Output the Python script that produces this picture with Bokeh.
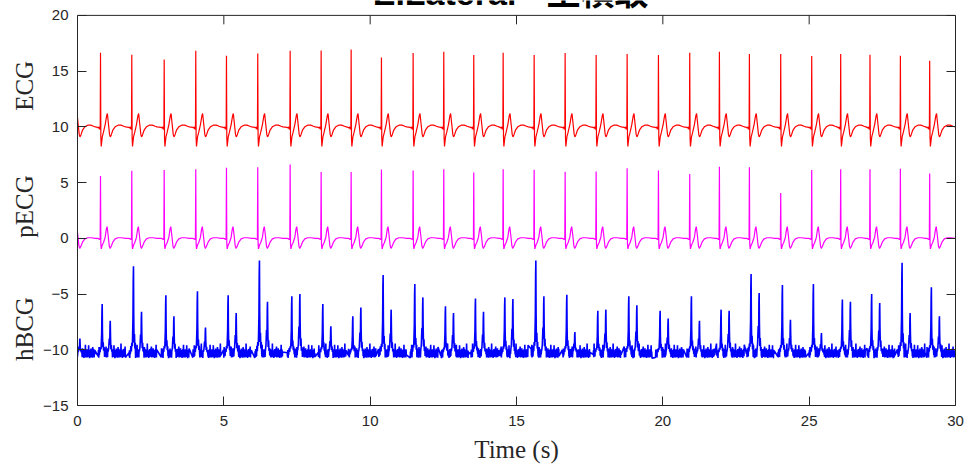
import numpy as np
from bokeh.plotting import figure
from bokeh.layouts import row
from bokeh.models import Range1d, FixedTicker, LinearAxis, Span, CustomJSTickFormatter
from bokeh.core.properties import value
from bokeh.embed import file_html
from bokeh.resources import INLINE

# ---------------- data ----------------
# R-peak (beat) times in seconds
beat_times = [0.786, 1.855, 2.962, 4.041, 5.090, 6.159, 7.266, 8.325, 9.350, 10.385,
              11.468, 12.515, 13.540, 14.544, 15.603, 16.662, 17.721, 18.780, 19.850,
              20.919, 21.933, 22.958, 24.028, 25.087, 26.077, 27.078, 28.117, 29.118]
lead_beat_time = -0.25          # beat that starts just before the record

# ECG (offset +10) R-peak values
ecg_r = [16.64, 16.46, 16.05, 16.82, 16.38, 16.59, 16.82, 16.86, 16.95, 16.23,
         16.62, 16.74, 16.44, 16.64, 16.44, 16.62, 16.44, 16.53, 16.44,
         16.65, 16.74, 16.54, 16.54, 16.36, 16.54, 16.47, 16.38, 15.94]
# pECG (offset 0) R-peak values
pecg_r = [5.59, 6.05, 6.12, 6.20, 6.32, 6.38, 6.62, 5.94, 5.94, 6.18,
          6.09, 6.20, 5.91, 6.20, 6.14, 5.97, 6.00, 6.29, 6.09,
          5.76, 6.41, 6.38, 4.06, 6.12, 6.20, 6.20, 6.23, 5.82]
# hBCG (offset -10) first (J) and second peaks
hbcg_j = [-5.9, -2.5, -5.1, -4.75, -5.1, -2.0, -5.2, -5.9, -7.0, -3.3,
          -4.1, -6.1, -5.4, -5.3, -2.0, -5.06, -6.5, -5.2, -6.5,
          -5.2, -6.4, -3.2, -4.2, -4.1, -5.5, -5.0, -2.2, -4.4]
hbcg_k = [-7.4, -6.6, -7.0, -8.0, -6.7, -5.7, -5.0, -7.9, -6.2, -6.4,
          -5.3, -6.7, -6.6, -5.45, -5.2, -8.4, -6.4, -6.0, -7.2,
          -7.4, -6.5, -4.9, -7.3, -8.5, -5.7, -5.8, -6.7, -7.0]
lead_hbcg_j, lead_hbcg_k = -9.5, -9.0

ecg_base, pecg_base, hbcg_base = 10.0, 0.0, -10.3

# one-beat wave shapes (time after R, value above baseline; None = R peak)
ecg_wave_dt = [-0.10, -0.07, -0.05, -0.035, -0.022, -0.01, 0.0, 0.012, 0.025, 0.06, 0.10,
               0.16, 0.21, 0.235, 0.27, 0.31, 0.335, 0.37, 0.42, 0.50, 0.60, 0.70, 0.80, 0.86]
ecg_wave_dv = [-0.05, -0.1, 0.0, -0.2, -0.05, -0.25, None, -1.0, -1.75, -0.9, -0.5,
               0.2, 1.0, 1.2, 0.3, -0.7, -0.9, -0.7, -0.3, 0.0, 0.15, 0.15, 0.05, 0.0]
pecg_wave_dt = [-0.10, -0.06, -0.03, -0.012, 0.0, 0.012, 0.025, 0.06, 0.10, 0.16, 0.20,
                0.225, 0.26, 0.30, 0.325, 0.36, 0.42, 0.50, 0.60, 0.72, 0.86]
pecg_wave_dv = [0.0, -0.05, -0.1, -0.1, None, -0.5, -0.95, -0.6, -0.4, 0.1, 0.85,
                1.05, 0.3, -0.7, -0.9, -0.75, -0.35, -0.05, 0.05, 0.05, 0.0]
# hBCG peak shapes: time after R, fraction of peak height above baseline
hbcg_j_dt = [-0.03, -0.015, 0.0, 0.02, 0.04, 0.05, 0.058, 0.066, 0.078, 0.092, 0.106, 0.12]
hbcg_j_f = [0.08, 0.02, 0.12, 0.08, 0.40, 0.85, 1.0, 0.45, 0.12, 0.22, 0.05, 0.12]
hbcg_k_dt = [0.26, 0.28, 0.30, 0.315, 0.325, 0.333, 0.342, 0.355, 0.37, 0.385, 0.40]
hbcg_k_f = [0.05, 0.15, 0.45, 0.25, 0.85, 1.0, 0.5, 0.12, 0.25, 0.04, 0.1]
# baseline jitter of the hBCG trace (value above baseline)
hbcg_jitter = [0.25, -0.30, 0.10, -0.40, 0.35, -0.15, 0.05, -0.35, 0.70, -0.25, 0.15, -0.45,
               0.30, -0.10, 0.20, -0.38, 0.42, -0.20, 0.00, -0.32, 0.28, -0.42, 0.55, -0.18,
               0.38, -0.28, 0.08, -0.40, 0.33, -0.12, 0.22, -0.36, 0.85, -0.22, 0.02, -0.30,
               0.26, -0.44, 0.16, -0.08, 0.36, -0.34, 0.06, -0.26, 0.41, -0.16, 0.60, -0.40,
               0.30, -0.06, 0.24, -0.37, 0.44, -0.24, 0.04, -0.31, 0.27, -0.43, 0.14, -0.14,
               0.37, -0.29, 0.75, -0.39, 0.32]
hbcg_jitter_dt = [-0.10 + 0.01 * i for i in range(96)]

x_ticks = [0, 5, 10, 15, 20, 25, 30]
y_ticks = [-15, -10, -5, 0, 5, 10, 15, 20]
y_tick_text = {-15: "\u221215", -10: "\u221210", -5: "\u22125"}
y_min, y_max = -15, 20
title_text = "E.Lateral - 坐横敢"
trace_names = ["ECG", "pECG", "hBCG"]
trace_name_y = [13.68, 2.86, -8.14]


# ---------------- build traces ----------------
def ecg_like(times, peaks, dts, dvs, base):
    xs, ys = [], []
    for tb, a in zip(times, peaks):
        for dt, dv in zip(dts, dvs):
            xs.append(tb + dt)
            ys.append(a if dv is None else base + dv)
    return xs, ys


def bcg_like(times, js, ks, base):
    xs, ys = [], []
    for b, (tb, j, k) in enumerate(zip(times, js, ks)):
        pts = []
        for i, dt in enumerate(hbcg_jitter_dt):
            if -0.035 <= dt <= 0.125 or 0.255 <= dt <= 0.405:
                continue
            pts.append((dt, base + hbcg_jitter[(i + 17 * b) % len(hbcg_jitter)]))
        for dt, f in zip(hbcg_j_dt, hbcg_j_f):
            pts.append((dt, base + f * (j - base)))
        for dt, f in zip(hbcg_k_dt, hbcg_k_f):
            pts.append((dt, base + f * (k - base)))
        pts.sort()
        for dt, v in pts:
            xs.append(tb + dt)
            ys.append(v)
    return xs, ys


all_t = [lead_beat_time] + beat_times
ex, ey = ecg_like(all_t, [ecg_r[0]] + ecg_r, ecg_wave_dt, ecg_wave_dv, ecg_base)
px, py = ecg_like(all_t, [pecg_r[0]] + pecg_r, pecg_wave_dt, pecg_wave_dv, pecg_base)
hx, hy = bcg_like(all_t, [lead_hbcg_j] + hbcg_j, [lead_hbcg_k] + hbcg_k, hbcg_base)

# ---------------- layout geometry ----------------
AX = "#262626"
H, W = 465, 969
LEFT_W = 40
TOP_PAD, BOTTOM_PAD = 15, 57
px_per_unit = (H - TOP_PAD - BOTTOM_PAD) / (y_max - y_min)
y_top = y_max + TOP_PAD / px_per_unit       # frame reaches the page top so the heading clips there
yr = Range1d(y_min, y_top)

# narrow strip that carries the trace names
names = figure(width=LEFT_W, height=H, x_range=Range1d(0, LEFT_W), y_range=yr,
               output_backend="svg", toolbar_location=None,
               x_axis_type=None, y_axis_type=None,
               min_border_left=0, min_border_right=0, min_border_top=0,
               min_border_bottom=BOTTOM_PAD)
names.grid.visible = False
names.outline_line_color = None
names.text(x=[24] * len(trace_names), y=trace_name_y, text=trace_names, angle=np.pi / 2,
           text_align="center", text_baseline="alphabetic",
           text_font=value("Liberation Serif"), text_font_size="25px", text_color=AX)

p = figure(width=W - LEFT_W, height=H, x_range=Range1d(0, 30), y_range=yr,
           output_backend="svg", toolbar_location=None,
           min_border_left=77 - LEFT_W, min_border_right=14, min_border_top=0,
           min_border_bottom=BOTTOM_PAD)
p.grid.visible = False
p.outline_line_color = None

p.line(ex, ey, line_color="#FF0000", line_width=1.2)
p.line(px, py, line_color="#FF00FF", line_width=1.2)
p.line(hx, hy, line_color="#0000FF", line_width=1.6)


def style_axis(ax):
    ax.axis_line_color = AX
    ax.axis_line_width = 1
    ax.major_tick_in = 9
    ax.major_tick_out = 0
    ax.major_tick_line_color = AX
    ax.minor_tick_line_color = None
    ax.major_label_text_font = "Liberation Sans"
    ax.major_label_text_font_size = "15px"
    ax.major_label_text_color = AX


style_axis(p.xaxis[0])
p.xaxis[0].ticker = FixedTicker(ticks=x_ticks)
p.xaxis[0].major_label_standoff = 10
p.xaxis[0].axis_label = "Time (s)"
p.xaxis[0].axis_label_text_font = "Liberation Serif"
p.xaxis[0].axis_label_text_font_style = "normal"
p.xaxis[0].axis_label_text_font_size = "25px"
p.xaxis[0].axis_label_text_color = AX
p.xaxis[0].axis_label_standoff = 7

style_axis(p.yaxis[0])
p.yaxis[0].ticker = FixedTicker(ticks=y_ticks)
p.yaxis[0].major_label_overrides = y_tick_text
p.yaxis[0].major_label_standoff = 9
p.yaxis[0].bounds = (y_min, y_max)

blank = CustomJSTickFormatter(code="return ''")
right = LinearAxis(ticker=FixedTicker(ticks=y_ticks), formatter=blank, major_label_standoff=0,
                   bounds=(y_min, y_max))
style_axis(right)
p.add_layout(right, "right")

# top edge of the box and its inward ticks
p.add_layout(Span(location=y_max, dimension="width", line_color=AX, line_width=1))
tick_len = 9 / px_per_unit
p.segment(x0=x_ticks, y0=[y_max] * len(x_ticks), x1=x_ticks,
          y1=[y_max - tick_len] * len(x_ticks), line_color=AX, line_width=1)

# heading: only its lower edge shows at the top of the page
p.text(x=[14.8], y=[y_top - 3 / px_per_unit], text=[title_text], y_offset=-10,
       text_align="center", text_baseline="alphabetic",
       text_font=value("Liberation Sans, Noto Sans CJK JP"), text_font_style="bold",
       text_font_size="34px", text_color="#000000")

layout = row(names, p, spacing=0)
open("out.html", "w").write(file_html(layout, INLINE))
